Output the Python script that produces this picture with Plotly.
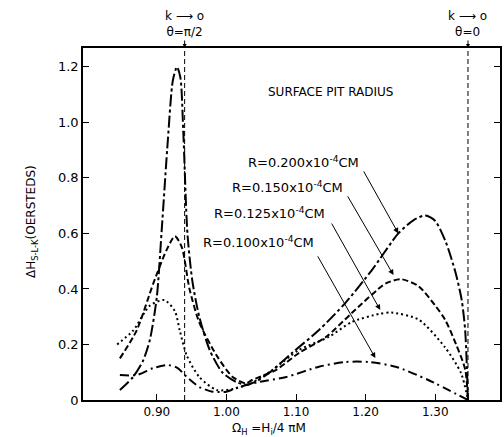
import plotly.graph_objects as go

# ---- data ----
r200_x = [0.847, 0.866, 0.880, 0.890, 0.900, 0.907, 0.916, 0.923, 0.929, 0.934, 0.938, 0.944, 0.951, 0.961, 0.976, 0.994, 1.014, 1.030, 1.045, 1.061, 1.094, 1.133, 1.171, 1.209, 1.247, 1.270, 1.286, 1.300, 1.315, 1.329, 1.338, 1.343, 1.347]
r200_y = [0.036, 0.083, 0.14, 0.216, 0.37, 0.61, 0.94, 1.15, 1.20, 1.16, 0.97, 0.60, 0.43, 0.30, 0.18, 0.10, 0.065, 0.055, 0.07, 0.097, 0.169, 0.252, 0.35, 0.468, 0.60, 0.65, 0.665, 0.645, 0.57, 0.46, 0.36, 0.25, 0.0]

r150_x = [0.847, 0.871, 0.895, 0.914, 0.926, 0.936, 0.947, 0.961, 0.986, 1.009, 1.028, 1.037, 1.071, 1.104, 1.143, 1.180, 1.229, 1.251, 1.276, 1.300, 1.314, 1.330, 1.343, 1.347]
r150_y = [0.15, 0.25, 0.42, 0.54, 0.59, 0.55, 0.40, 0.28, 0.16, 0.083, 0.06, 0.072, 0.108, 0.169, 0.227, 0.313, 0.42, 0.435, 0.41, 0.34, 0.29, 0.20, 0.11, 0.0]

r125_x = [0.843, 0.866, 0.890, 0.911, 0.926, 0.933, 0.943, 0.961, 0.986, 1.010, 1.035, 1.066, 1.104, 1.147, 1.180, 1.219, 1.237, 1.276, 1.314, 1.337, 1.347]
r125_y = [0.20, 0.25, 0.34, 0.36, 0.32, 0.25, 0.16, 0.083, 0.036, 0.04, 0.06, 0.108, 0.18, 0.227, 0.281, 0.31, 0.315, 0.29, 0.19, 0.097, 0.0]

r100_x = [0.847, 0.871, 0.895, 0.916, 0.930, 0.943, 0.961, 0.980, 1.000, 1.019, 1.047, 1.086, 1.133, 1.171, 1.204, 1.243, 1.290, 1.347]
r100_y = [0.09, 0.09, 0.115, 0.126, 0.115, 0.083, 0.047, 0.03, 0.03, 0.047, 0.065, 0.083, 0.12, 0.137, 0.137, 0.12, 0.072, 0.0]

x_ticks = [0.90, 1.00, 1.10, 1.20, 1.30]
x_tick_labels = ["0.90", "1.00", "1.10", "1.20", "1.30"]
y_ticks = [0, 0.2, 0.4, 0.6, 0.8, 1.0, 1.2]
y_tick_labels = ["0", "0.2", "0.4", "0.6", "0.8", "1.0", "1.2"]

ref_lines_x = [0.94, 1.347]
ref_labels = ["k \u27f6 o<br>\u03b8=\u03c0/2", "k \u27f6 o<br>\u03b8=0"]

series_labels = ["R=0.200x10<sup>-4</sup>CM", "R=0.150x10<sup>-4</sup>CM",
                 "R=0.125x10<sup>-4</sup>CM", "R=0.100x10<sup>-4</sup>CM"]
label_pos = [(1.194, 0.858), (1.171, 0.768), (1.144, 0.674), (1.129, 0.569)]
arrow_tail = [(1.196, 0.829), (1.173, 0.739), (1.150, 0.641), (1.130, 0.523)]
arrow_head = [(1.247, 0.600), (1.240, 0.450), (1.221, 0.324), (1.214, 0.151)]

FONT = "DejaVu Sans, Liberation Sans, sans-serif"

fig = go.Figure()
styles = [
    (r200_x, r200_y, "12px,3px,3px,3px"),
    (r150_x, r150_y, "6px,3px"),
    (r125_x, r125_y, "2px,3px"),
    (r100_x, r100_y, "9px,4px,2px,4px"),
]
for xs, ys, dash in styles:
    fig.add_trace(go.Scatter(x=xs, y=ys, mode="lines",
                             line=dict(color="black", width=2, dash=dash, shape="spline", smoothing=0.7),
                             showlegend=False, hoverinfo="skip"))

for rx in ref_lines_x:
    fig.add_shape(type="line", xref="x", yref="paper", x0=rx, x1=rx, y0=0, y1=1,
                  line=dict(color="black", width=1, dash="5px,3px"))

annotations = []
for rx, lab in zip(ref_lines_x, ref_labels):
    annotations.append(dict(x=rx, xref="x", y=1.02, yref="paper", text=lab, showarrow=False,
                            yanchor="bottom", xanchor="center", align="center",
                            font=dict(family=FONT, size=12, color="black")))
    annotations.append(dict(x=rx, xref="x", y=1.0, yref="paper", ax=0, ay=-9, text="",
                            showarrow=True, arrowhead=2, arrowsize=0.8, arrowwidth=1, arrowcolor="black"))

for lab, (lx, ly) in zip(series_labels, label_pos):
    annotations.append(dict(x=lx, y=ly, xref="x", yref="y", text=lab, showarrow=False,
                            xanchor="right", yanchor="middle",
                            font=dict(family=FONT, size=13, color="black")))
for (tx, ty), (hx, hy) in zip(arrow_tail, arrow_head):
    annotations.append(dict(x=hx, y=hy, ax=tx, ay=ty, xref="x", yref="y", axref="x", ayref="y",
                            text="", showarrow=True, arrowhead=2, arrowsize=1.1, arrowwidth=1,
                            arrowcolor="black"))

annotations.append(dict(x=1.15, y=1.11, xref="x", yref="y", text="SURFACE PIT RADIUS", showarrow=False,
                        xanchor="center", font=dict(family=FONT, size=12, color="black")))
annotations.append(dict(x=-0.146, y=0.506, xref="paper", yref="paper",
                        text="\u0394H<sub>S-L-K</sub>(OERSTEDS)", textangle=-90, showarrow=False,
                        font=dict(family=FONT, size=12, color="black")))
annotations.append(dict(x=0.446, y=-0.054, xref="paper", yref="paper",
                        text="\u03a9<sub>H</sub> =H<sub>i</sub>/4 \u03c0M", showarrow=False,
                        yanchor="top", font=dict(family=FONT, size=12, color="black")))

fig.update_layout(
    width=504, height=437,
    margin=dict(l=83, r=2, t=48, b=37),
    paper_bgcolor="white", plot_bgcolor="white",
    font=dict(family=FONT, size=13, color="black"),
    annotations=annotations,
    xaxis=dict(range=[0.794, 1.393], tickvals=x_ticks, ticktext=x_tick_labels,
               tickfont=dict(size=12),
               ticks="inside", ticklen=6, tickcolor="black", showline=True, linecolor="black",
               linewidth=1.5, mirror=True, showgrid=False, zeroline=False),
    yaxis=dict(range=[0, 1.268], tickvals=y_ticks, ticktext=y_tick_labels,
               ticks="inside", ticklen=6, tickcolor="black", showline=True, linecolor="black",
               linewidth=1.5, mirror="ticks", showgrid=False, zeroline=False),
)

fig.write_html("out.html")
